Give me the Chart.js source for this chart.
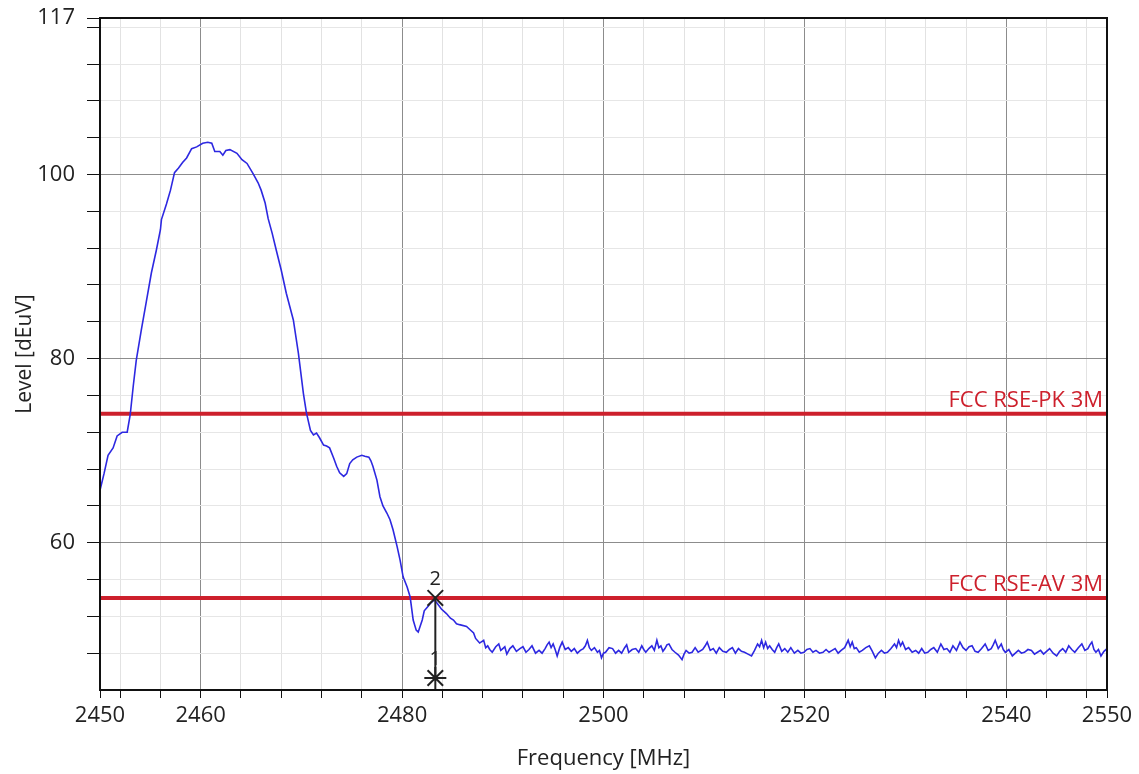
<!DOCTYPE html>
<html>
  <head>
    <meta charset="utf-8" />
    <title>Level vs Frequency</title>
    <script src="https://cdn.jsdelivr.net/npm/chart.js@4.4.1/dist/chart.umd.min.js"></script>
    <style>
      html, body { margin: 0; padding: 0; background: #fff; }
      #wrap { width: 1139px; height: 774px; }
    </style>
  </head>
  <body>
    <div id="wrap"><canvas id="myChart" width="1139" height="774"></canvas></div>
    <script>
      // trace: emission hump + band edge
      const peakFreq = [
        2450.0, 2450.4, 2450.8, 2451.3, 2451.7, 2452.2, 2452.7, 2453.0, 2453.3, 2453.6,
        2454.1, 2454.6, 2455.1, 2455.6, 2456.0, 2456.1, 2456.6, 2457.0, 2457.4, 2457.8,
        2458.2, 2458.6, 2459.1, 2459.6, 2460.2, 2460.7, 2461.1, 2461.4, 2461.9, 2462.2,
        2462.5, 2462.9, 2463.6, 2464.1, 2464.6, 2465.2, 2465.7, 2466.0, 2466.4, 2466.7,
        2467.1, 2467.5, 2468.0, 2468.5, 2469.2, 2469.7, 2470.2, 2470.5, 2470.9, 2471.2,
        2471.5, 2471.8, 2472.2, 2472.5, 2472.8, 2473.2, 2473.5, 2473.8, 2474.2, 2474.5,
        2474.8, 2475.1, 2475.5, 2476.0, 2476.3, 2476.7, 2476.9, 2477.1, 2477.5, 2477.8,
        2478.1, 2478.5, 2478.8, 2479.1, 2479.5, 2479.8, 2480.1, 2480.5, 2480.8, 2481.1,
        2481.4, 2481.6, 2482.0, 2482.2, 2482.5, 2482.8, 2483.2, 2483.5, 2483.9, 2484.4,
        2484.8, 2485.1, 2485.4, 2485.7, 2486.4, 2486.7, 2487.1, 2487.3, 2487.7
      ];
      const peakLevel = [
        65.7, 67.5, 69.5, 70.3, 71.6, 72.0, 72.0, 73.9, 77.0, 79.8,
        83.1, 86.2, 89.3, 91.8, 94.0, 95.1, 96.8, 98.3, 100.2, 100.7,
        101.3, 101.8, 102.8, 103.0, 103.4, 103.5, 103.4, 102.5, 102.5, 102.1,
        102.6, 102.7, 102.3, 101.6, 101.2, 100.1, 99.1, 98.3, 96.9, 95.2,
        93.6, 91.8, 89.6, 87.1, 84.2, 80.6, 76.2, 74.1, 72.2, 71.7,
        71.9, 71.4, 70.6, 70.5, 70.3, 69.2, 68.3, 67.6, 67.2, 67.5,
        68.6, 69.0, 69.3, 69.5, 69.4, 69.3, 68.9, 68.3, 66.8, 65.0,
        64.0, 63.2, 62.5, 61.4, 59.6, 58.1, 56.3, 55.2, 54.1, 51.6,
        50.5, 50.3, 51.6, 52.6, 53.0, 53.4, 53.8, 53.4, 52.8, 52.3,
        51.8, 51.6, 51.2, 51.1, 50.9, 50.6, 50.2, 49.6, 49.1
      ];
      // noise floor above the band edge
      const floorFreq = [
        2488.1, 2488.3, 2488.5, 2488.7, 2488.95, 2489.3, 2489.6, 2489.8, 2490.0, 2490.2,
        2490.4, 2490.7, 2491.0, 2491.35, 2491.7, 2492.0, 2492.3, 2492.6, 2492.9, 2493.25,
        2493.6, 2493.9, 2494.2, 2494.4, 2494.6, 2494.8, 2495.0, 2495.2, 2495.4, 2495.65,
        2495.9, 2496.2, 2496.5, 2496.8, 2497.1, 2497.4, 2497.7, 2498.0, 2498.2, 2498.4,
        2498.6, 2498.8, 2499.1, 2499.4, 2499.6, 2499.8, 2500.0, 2500.2, 2500.55, 2500.9,
        2501.2, 2501.5, 2501.8, 2502.1, 2502.3, 2502.5, 2502.85, 2503.2, 2503.5, 2503.8,
        2504.0, 2504.2, 2504.5, 2504.8, 2505.05, 2505.3, 2505.5, 2505.7, 2505.9, 2506.1,
        2506.3, 2506.5, 2506.8, 2507.1, 2507.45, 2507.8, 2508.0, 2508.2, 2508.5, 2508.8,
        2509.1, 2509.4, 2509.85, 2510.1, 2510.3, 2510.6, 2510.9, 2511.2, 2511.5, 2511.85,
        2512.2, 2512.5, 2512.8, 2513.1, 2513.4, 2513.7, 2514.0, 2514.35, 2514.7, 2515.0,
        2515.3, 2515.5, 2515.7, 2515.9, 2516.1, 2516.3, 2516.5, 2516.75, 2517.0, 2517.2,
        2517.4, 2517.7, 2518.0, 2518.3, 2518.6, 2518.95, 2519.3, 2519.6, 2519.9, 2520.2,
        2520.5, 2520.8, 2521.1, 2521.45, 2521.8, 2522.1, 2522.4, 2522.7, 2523.0, 2523.3,
        2523.6, 2523.95, 2524.3, 2524.5, 2524.7, 2524.9, 2525.1, 2525.4, 2525.7, 2526.05,
        2526.4, 2526.7, 2527.0, 2527.3, 2527.6, 2527.9, 2528.2, 2528.55, 2528.9, 2529.1,
        2529.3, 2529.5, 2529.7, 2530.0, 2530.3, 2530.65, 2531.0, 2531.3, 2531.6, 2531.9,
        2532.2, 2532.5, 2532.8, 2533.15, 2533.5, 2533.8, 2534.1, 2534.4, 2534.7, 2535.05,
        2535.4, 2535.7, 2536.0, 2536.3, 2536.6, 2536.9, 2537.2, 2537.55, 2537.9, 2538.2,
        2538.5, 2538.7, 2538.9, 2539.2, 2539.5, 2539.7, 2539.9, 2540.25, 2540.6, 2540.9,
        2541.2, 2541.5, 2541.8, 2542.15, 2542.5, 2542.8, 2543.1, 2543.4, 2543.7, 2544.0,
        2544.3, 2544.65, 2545.0, 2545.3, 2545.6, 2545.9, 2546.2, 2546.5, 2546.8, 2547.15,
        2547.5, 2547.8, 2548.1, 2548.3, 2548.5, 2548.7, 2548.9, 2549.15, 2549.4, 2549.7,
        2550.0
      ];
      const floorLevel = [
        49.4, 48.6, 48.8, 48.4, 48.1, 48.7, 49.0, 48.3, 48.5, 48.7,
        47.9, 48.5, 48.8, 48.2, 48.5, 48.7, 48.1, 48.4, 48.8, 48.0,
        48.3, 48.0, 48.5, 48.9, 49.2, 48.6, 49.0, 48.4, 47.7, 48.6,
        49.2, 48.4, 48.6, 48.2, 48.5, 48.0, 48.3, 48.5, 48.8, 49.4,
        48.6, 48.3, 48.6, 48.1, 48.3, 47.5, 48.0, 48.1, 48.6, 48.5,
        48.0, 48.3, 48.0, 48.6, 48.9, 48.1, 48.4, 48.5, 48.1, 48.8,
        48.4, 48.1, 48.5, 48.8, 48.3, 49.4, 48.6, 48.8, 48.2, 48.5,
        48.9, 49.0, 48.4, 48.1, 47.8, 47.3, 47.9, 48.3, 48.0, 48.1,
        48.6, 48.1, 48.4, 48.8, 49.2, 48.3, 48.5, 48.0, 48.6, 48.2,
        48.1, 48.4, 48.6, 48.0, 48.5, 48.2, 48.1, 47.9, 47.7, 48.3,
        49.0, 48.7, 49.4, 48.6, 49.2, 48.5, 48.8, 48.4, 48.1, 48.6,
        49.0, 48.2, 48.5, 48.1, 48.6, 48.0, 48.3, 48.0, 48.1, 48.4,
        48.5, 48.1, 48.3, 48.0, 48.1, 48.4, 48.1, 48.3, 48.5, 48.0,
        48.3, 48.6, 49.4, 48.7, 49.2, 48.5, 48.6, 48.1, 48.3, 48.6,
        48.8, 48.2, 47.5, 48.0, 48.3, 48.0, 48.1, 48.5, 49.0, 48.6,
        49.4, 48.8, 49.2, 48.4, 48.6, 48.1, 48.3, 48.0, 48.5, 48.0,
        48.1, 48.4, 48.6, 48.1, 49.0, 48.4, 48.5, 48.1, 48.8, 48.3,
        49.2, 48.6, 48.3, 48.7, 48.8, 48.2, 48.1, 48.5, 49.0, 48.3,
        48.5, 48.9, 49.4, 48.5, 49.0, 48.4, 48.1, 48.4, 47.7, 48.0,
        48.3, 48.0, 48.1, 48.4, 48.3, 47.9, 48.1, 48.3, 47.9, 48.2,
        48.5, 48.0, 47.7, 48.2, 48.5, 48.1, 48.8, 48.4, 48.1, 48.6,
        49.0, 48.3, 48.5, 48.9, 49.2, 48.4, 48.1, 48.4, 47.7, 48.2,
        48.5
      ];

      const limitNames = ["FCC RSE-PK 3M", "FCC RSE-AV 3M"];
      const limitLevels = [74, 54];

      const markerNames = ["1", "2"];
      const markerFreq = 2483.3;
      const markerLevels = [45.3, 54.0];

      const xLabels = [2450, 2460, 2480, 2500, 2520, 2540, 2550];
      const xMajor = [2460, 2480, 2500, 2520, 2540];
      const yLabels = [60, 80, 100, 117];
      const yMajor = [60, 80, 100];

      const FONT = "'Open Sans', sans-serif";
      const traceColor = "rgb(45, 40, 225)";
      const limitColor = "rgb(205, 32, 44)";
      const inkColor = "#222";

      const traceData = peakFreq.map((f, i) => ({ x: f, y: peakLevel[i] }))
        .concat(floorFreq.map((f, i) => ({ x: f, y: floorLevel[i] })));

      const limitSets = limitLevels.map((lv, i) => ({
        label: limitNames[i],
        data: [{ x: 2450, y: lv }, { x: 2550, y: lv }],
        borderColor: limitColor,
        borderWidth: 4,
        pointRadius: 0,
        order: 2,
      }));

      const markerSets = [
        {
          label: "marker stem",
          data: markerLevels.map((lv) => ({ x: markerFreq, y: lv })),
          borderColor: inkColor,
          borderWidth: 2,
          pointRadius: 0,
          order: 0,
        },
        {
          label: "markers",
          data: markerLevels.map((lv) => ({ x: markerFreq, y: lv })),
          showLine: false,
          pointStyle: ["star", "crossRot"],
          pointRadius: 11,
          pointBorderWidth: 2,
          pointBorderColor: inkColor,
          order: 0,
        },
      ];

      // limit names, marker numbers and the closed frame
      const annotate = {
        id: "annotate",
        afterDatasetsDraw(chart) {
          const { ctx, chartArea, scales } = chart;
          ctx.save();
          ctx.font = "22px " + FONT;
          ctx.fillStyle = limitColor;
          ctx.textAlign = "right";
          ctx.textBaseline = "bottom";
          limitLevels.forEach((lv, i) => {
            ctx.fillText(limitNames[i], chartArea.right - 4, scales.y.getPixelForValue(lv) - 2);
          });
          ctx.fillStyle = inkColor;
          ctx.textAlign = "center";
          ctx.textBaseline = "bottom";
          ctx.font = "20px " + FONT;
          markerLevels.forEach((lv, i) => {
            ctx.fillText(markerNames[i], scales.x.getPixelForValue(markerFreq), scales.y.getPixelForValue(lv) - 9);
          });
          ctx.strokeStyle = "#111";
          ctx.lineWidth = 2;
          ctx.strokeRect(chartArea.left, chartArea.top, chartArea.right - chartArea.left, chartArea.bottom - chartArea.top);
          ctx.restore();
        },
      };

      const data = {
        datasets: [
          {
            label: "Level",
            data: traceData,
            borderColor: traceColor,
            borderWidth: 1.6,
            pointRadius: 0,
            tension: 0,
            order: 1,
          },
          ...limitSets,
          ...markerSets,
        ],
      };

      const config = {
        type: "line",
        data: data,
        plugins: [annotate],
        options: {
          responsive: false,
          animation: false,
          layout: { padding: { top: 18, right: 32, left: 0, bottom: 0 } },
          plugins: {
            legend: { display: false },
            tooltip: { enabled: false },
          },
          scales: {
            x: {
              type: "linear",
              min: 2450,
              max: 2550,
              afterBuildTicks: (scale) => {
                const t = [{ value: 2450 }];
                for (let v = 2452; v <= 2548; v += 4) t.push({ value: v });
                t.push({ value: 2550 });
                scale.ticks = t;
              },
              afterFit: (scale) => { scale.height = 84; },
              ticks: {
                autoSkip: false,
                maxRotation: 0,
                padding: 5,
                color: inkColor,
                font: { family: FONT, size: 22 },
                callback: (v) => (xLabels.includes(v) ? String(v) : ""),
              },
              grid: {
                tickLength: 8,
                tickColor: "#111",
                color: (c) => {
                  const v = c.tick && c.tick.value;
                  if (v === 2450 || v === 2550) return "rgba(0,0,0,0)";
                  return xMajor.includes(v) ? "#8c8c8c" : "#e2e2e2";
                },
              },
              border: { color: "#111", width: 2 },
              title: {
                display: true,
                text: "Frequency [MHz]",
                color: inkColor,
                font: { family: FONT, size: 22 },
                padding: { top: 0, bottom: 2 },
              },
            },
            y: {
              type: "linear",
              min: 44,
              max: 117,
              afterBuildTicks: (scale) => {
                const t = [];
                for (let v = 48; v <= 116; v += 4) t.push({ value: v });
                t.push({ value: 117 });
                scale.ticks = t;
              },
              afterFit: (scale) => {
                scale.width = 100;
                scale.paddingTop = 0;
                scale.paddingBottom = 0;
              },
              ticks: {
                autoSkip: false,
                padding: 12,
                color: inkColor,
                font: { family: FONT, size: 22 },
                callback: (v) => (yLabels.includes(v) ? String(v) : ""),
              },
              grid: {
                tickLength: 13,
                tickColor: "#111",
                color: (c) => {
                  const v = c.tick && c.tick.value;
                  if (v === 117) return "rgba(0,0,0,0)";
                  return yMajor.includes(v) ? "#8c8c8c" : "#e6e6e6";
                },
              },
              border: { color: "#111", width: 2 },
              title: {
                display: true,
                text: "Level [dEuV]",
                color: inkColor,
                font: { family: FONT, size: 21 },
                padding: { top: 12, bottom: 0 },
              },
            },
          },
        },
      };

      const ctx = document.getElementById("myChart");
      const myChart = new Chart(ctx, config);
    </script>
  </body>
</html>
